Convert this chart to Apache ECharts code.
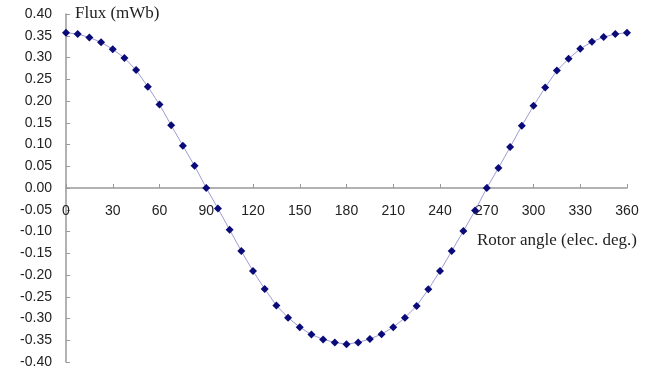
<!DOCTYPE html>
<html>
<head>
<meta charset="utf-8">
<script src="https://cdn.jsdelivr.net/npm/echarts@6/dist/echarts.min.js"></script>
<style>
  html, body { margin: 0; padding: 0; background: #fff; }
  #fluxChart { width: 668px; height: 376px; }
</style>
</head>
<body>
<div id="fluxChart"></div>
<script>
// rotor angle, elec. deg (one point every 7.5 deg)
const angles = [
  0, 7.5, 15, 22.5, 30, 37.5, 45, 52.5, 60, 67.5, 75, 82.5,
  90, 97.5, 105, 112.5, 120, 127.5, 135, 142.5, 150, 157.5, 165, 172.5,
  180, 187.5, 195, 202.5, 210, 217.5, 225, 232.5, 240, 247.5, 255, 262.5,
  270, 277.5, 285, 292.5, 300, 307.5, 315, 322.5, 330, 337.5, 345, 352.5,
  360
];
// flux linkage, mWb
const flux = [
  0.357, 0.354, 0.346, 0.335, 0.319, 0.299, 0.271, 0.233, 0.192, 0.144, 0.097, 0.051,
  0.000, -0.047, -0.096, -0.145, -0.191, -0.232, -0.270, -0.298, -0.320, -0.337, -0.348, -0.355,
  -0.359, -0.355, -0.347, -0.336, -0.320, -0.298, -0.271, -0.233, -0.191, -0.145, -0.099, -0.052,
  0.000, 0.046, 0.094, 0.143, 0.189, 0.231, 0.270, 0.297, 0.320, 0.336, 0.347, 0.354,
  0.357
];
const xTicks = [0, 30, 60, 90, 120, 150, 180, 210, 240, 270, 300, 330, 360];
const yTicks = [-0.4, -0.35, -0.3, -0.25, -0.2, -0.15, -0.1, -0.05, 0, 0.05, 0.1, 0.15, 0.2, 0.25, 0.3, 0.35, 0.4];
const yName = 'Flux (mWb)';
const xName = 'Rotor angle (elec. deg.)';

const chart = echarts.init(document.getElementById('fluxChart'));
const points = angles.map((a, i) => [a, flux[i]]);

const gridTop = 14, gridBottom = 14;
const plotHeight = 376 - gridTop - gridBottom;
const nameStyle = { fontFamily: 'Liberation Serif', fontSize: 17, fontWeight: 'normal', color: '#222' };

const option = {
  animation: false,
  title: [
    { text: yName, left: 75, top: 5, padding: 0, textStyle: nameStyle },
    { text: xName, right: 31, top: 232, padding: 0, textStyle: nameStyle }
  ],
  grid: { left: 66, right: 41, top: gridTop, bottom: gridBottom },
  xAxis: {
    type: 'value',
    min: xTicks[0],
    max: xTicks[xTicks.length - 1],
    interval: 30,
    // x axis sits on the zero line, labels travel with it
    offset: -plotHeight / 2,
    splitLine: { show: false },
    axisLine: { show: true, onZero: false, lineStyle: { color: '#999999', width: 1.5 } },
    axisTick: { show: true, inside: true, length: 4 },
    axisLabel: { margin: 16, color: '#222', fontFamily: 'Liberation Sans', fontSize: 14 }
  },
  yAxis: {
    type: 'value',
    min: yTicks[0],
    max: yTicks[yTicks.length - 1],
    interval: 0.05,
    splitLine: { show: false },
    axisLine: { show: true, lineStyle: { color: '#999999', width: 1.5 } },
    axisTick: { show: true, inside: true, length: 4 },
    axisLabel: {
      margin: 14, color: '#222', fontFamily: 'Liberation Sans', fontSize: 14,
      formatter: v => v.toFixed(2)
    }
  },
  series: [{
    type: 'line',
    data: points,
    symbol: 'diamond',
    symbolSize: 8,
    showAllSymbol: true,
    lineStyle: { color: '#9c9cd4', width: 1 },
    itemStyle: { color: '#0a0a78' }
  }]
};
chart.setOption(option);
</script>
</body>
</html>
